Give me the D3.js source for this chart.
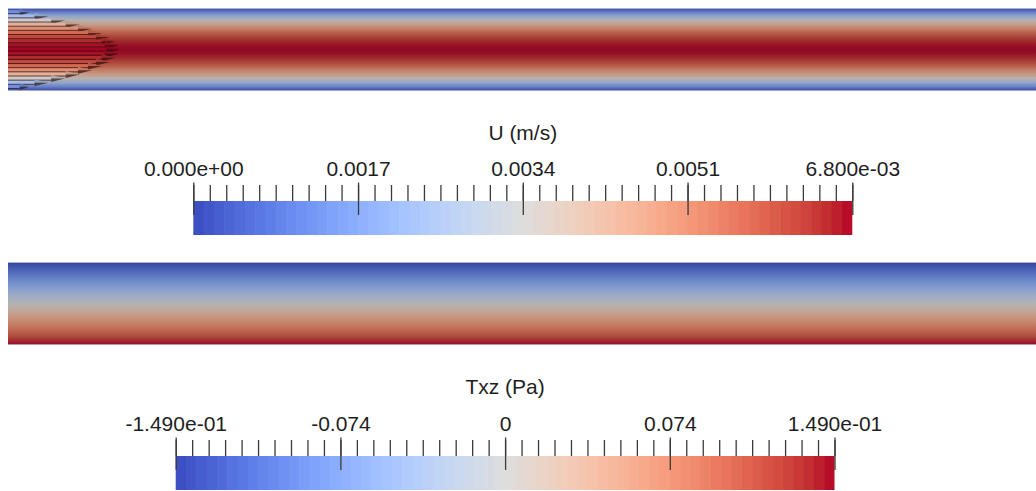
<!DOCTYPE html>
<html>
<head>
<meta charset="utf-8">
<script src="https://cdn.jsdelivr.net/npm/d3@7"></script>
<style>
  html, body { margin: 0; padding: 0; background: #fff; }
  svg { display: block; }
  text { font-family: "Liberation Sans", Arial, sans-serif; fill: #1e1e1e; }
</style>
</head>
<body>
<svg id="chart" width="1036" height="491"></svg>
<script>
// ---------------- data ----------------
// Cool-to-Warm colormap control points (position, colour)
const cmapPos = [0,0.03125,0.0625,0.09375,0.125,0.15625,0.1875,0.21875,0.25,0.28125,0.3125,0.34375,0.375,0.40625,0.4375,0.46875,0.5,0.53125,0.5625,0.59375,0.625,0.65625,0.6875,0.71875,0.75,0.78125,0.8125,0.84375,0.875,0.90625,0.9375,0.96875,1];
const cmapColors = ["rgb(59,76,192)","rgb(68,90,204)","rgb(77,104,215)","rgb(87,117,225)","rgb(98,130,234)","rgb(108,142,241)","rgb(119,154,247)","rgb(130,165,251)","rgb(141,176,254)","rgb(152,185,255)","rgb(163,194,255)","rgb(174,201,253)","rgb(184,208,249)","rgb(194,213,244)","rgb(204,217,238)","rgb(213,219,230)","rgb(221,221,221)","rgb(229,216,209)","rgb(236,211,197)","rgb(241,204,185)","rgb(245,196,173)","rgb(247,187,160)","rgb(247,177,148)","rgb(247,166,135)","rgb(244,154,123)","rgb(241,141,111)","rgb(236,127,99)","rgb(229,112,88)","rgb(222,96,77)","rgb(213,80,66)","rgb(203,62,56)","rgb(192,40,47)","rgb(180,4,38)"];

// Velocity field U (m/s)
const uTitle = "U (m/s)";
const uDomain = [0, 0.0068];
const uTicks = [0, 0.0017, 0.0034, 0.0051, 0.0068];
const uTickLabels = ["0.000e+00", "0.0017", "0.0034", "0.0051", "6.800e-03"];
// radial position across the pipe (r/R, top to bottom) and velocity
const uRadial = [-1,-0.9,-0.8,-0.7,-0.6,-0.5,-0.4,-0.3,-0.2,-0.1,0,0.1,0.2,0.3,0.4,0.5,0.6,0.7,0.8,0.9,1];
const uValues = [0,0.00129,0.00245,0.00347,0.00435,0.0051,0.00571,0.00619,0.00653,0.00673,0.0068,0.00673,0.00653,0.00619,0.00571,0.0051,0.00435,0.00347,0.00245,0.00129,0];

// Shear stress Txz (Pa)
const tTitle = "Txz (Pa)";
const tDomain = [-0.149, 0.149];
const tTicks = [-0.149, -0.0745, 0, 0.0745, 0.149];
const tTickLabels = ["-1.490e-01", "-0.074", "0", "0.074", "1.490e-01"];
const tRadial = [-1,-0.8,-0.6,-0.4,-0.2,0,0.2,0.4,0.6,0.8,1];
const tValues = [-0.149,-0.119,-0.089,-0.060,-0.030,0,0.030,0.060,0.089,0.119,0.149];

// ---------------- drawing ----------------
const svg = d3.select("#chart");
const defs = svg.append("defs");
const W = 1036;

const cmap = d3.scaleLinear().domain(cmapPos).range(cmapColors).interpolate(d3.interpolateRgb).clamp(true);
function shade(c, k, add) { const o = d3.rgb(c); const a = add || 0; return d3.rgb(o.r * k + a, o.g * k + a, o.b * k + a).formatRgb(); }

function drawPipe(id, top, height, radial, values, domain) {
  const norm = d3.scaleLinear().domain(domain).range([0, 1]);
  const y = d3.scaleLinear().domain([-1, 1]).range([top, top + height]);
  const g = defs.append("linearGradient").attr("id", id)
    .attr("x1", 0).attr("y1", 0).attr("x2", 0).attr("y2", 1);
  radial.forEach((r, i) => {
    g.append("stop")
      .attr("offset", (y(r) - top) / height)
      .attr("stop-color", shade(cmap(norm(values[i])), 0.78, 6));
  });
  svg.append("rect").attr("x", 8).attr("y", top).attr("width", W - 8).attr("height", height)
    .attr("fill", `url(#${id})`);
  svg.append("line").attr("x1", 8).attr("x2", W).attr("y1", top + 0.5).attr("y2", top + 0.5)
    .attr("stroke", "rgba(200,205,225,0.8)").attr("stroke-width", 1);
  svg.append("line").attr("x1", 8).attr("x2", W).attr("y1", top + height - 0.5).attr("y2", top + height - 0.5)
    .attr("stroke", "rgba(210,210,225,0.7)").attr("stroke-width", 1);
  return { y, norm };
}

// Top pipe: velocity
const p1 = drawPipe("gradU", 8, 83, uRadial, uValues, uDomain);

// velocity arrow glyphs at inlet
const arrowLen = d3.scaleLinear().domain(uDomain).range([0, 112]);
const arrows = svg.append("g");
uRadial.forEach((r, i) => {
  const v = uValues[i];
  const L = arrowLen(v);
  if (L < 2) return;
  const yc = p1.y(r);
  const x0 = 8, tip = x0 + L;
  const head = Math.min(14, L * 0.45);
  const col = cmap(p1.norm(v));
  arrows.append("rect").attr("x", x0).attr("y", yc - 1.8).attr("width", Math.max(0, L - head)).attr("height", 3.6)
    .attr("fill", shade(col, 0.92));
  arrows.append("line").attr("x1", x0).attr("x2", x0 + Math.max(0, L - head)).attr("y1", yc + 1.6).attr("y2", yc + 1.6)
    .attr("stroke", "rgba(45,15,15,0.75)").attr("stroke-width", 1);
  arrows.append("polygon")
    .attr("points", `${tip - head},${yc - 3.5} ${tip},${yc} ${tip - head},${yc + 3.5}`)
    .attr("fill", shade(col, 0.8));
  arrows.append("polygon")
    .attr("points", `${tip - head},${yc} ${tip},${yc} ${tip - head},${yc + 3.5}`)
    .attr("fill", "rgba(35,10,10,0.65)");
});

// Bottom pipe: shear stress
drawPipe("gradT", 262, 83, tRadial, tValues, tDomain);

// ---------------- colorbars ----------------
function drawColorbar(x0, x1, barTop, barH, domain, ticks, labels, title, titleY) {
  const x = d3.scaleLinear().domain(domain).range([x0, x1]);
  const norm = d3.scaleLinear().domain(domain).range([0, 1]);
  const nb = 64;
  const span = domain[1] - domain[0];
  const bands = d3.range(nb).map(i => ({
    lo: domain[0] + span * i / nb,
    hi: domain[0] + span * (i + 1) / nb,
    mid: domain[0] + span * (i + 0.5) / nb
  }));
  const g = svg.append("g");
  g.selectAll("rect.band").data(bands).join("rect").attr("class", "band")
    .attr("x", d => x(d.lo)).attr("y", barTop)
    .attr("width", (d, i) => x(d.hi) - x(d.lo) + (i < nb - 1 ? 0.6 : 0))
    .attr("height", barH)
    .attr("fill", d => cmap(norm(d.mid)));

  // minor ticks
  const minor = d3.range(41).map(i => domain[0] + span * i / 40);
  const minorAxis = d3.axisTop(x).tickValues(minor).tickSize(16).tickFormat("");
  const gm = g.append("g").attr("transform", `translate(0,${barTop})`).call(minorAxis);
  gm.select(".domain").remove();
  gm.selectAll("line").attr("stroke", "#3a3a3a").attr("stroke-width", 1.3);

  // major ticks with labels
  const majorAxis = d3.axisTop(x).tickValues(ticks).tickSize(32.5).tickPadding(7)
    .tickFormat((d, i) => labels[i]);
  const gM = g.append("g").attr("transform", `translate(0,${barTop + 14})`).call(majorAxis);
  gM.select(".domain").remove();
  gM.selectAll("line").attr("stroke", "#3a3a3a").attr("stroke-width", 1.3);
  gM.selectAll("text").attr("font-size", 21).attr("font-family", "Liberation Sans, Arial, sans-serif")
    .attr("fill", "#1e1e1e");

  g.append("text").attr("x", (x0 + x1) / 2).attr("y", titleY).attr("text-anchor", "middle")
    .attr("font-size", 21).text(title);
}

drawColorbar(193.3, 852.3, 201, 34, uDomain, uTicks, uTickLabels, uTitle, 140);
drawColorbar(175.7, 834.5, 456, 34, tDomain, tTicks, tTickLabels, tTitle, 394);
</script>
</body>
</html>
